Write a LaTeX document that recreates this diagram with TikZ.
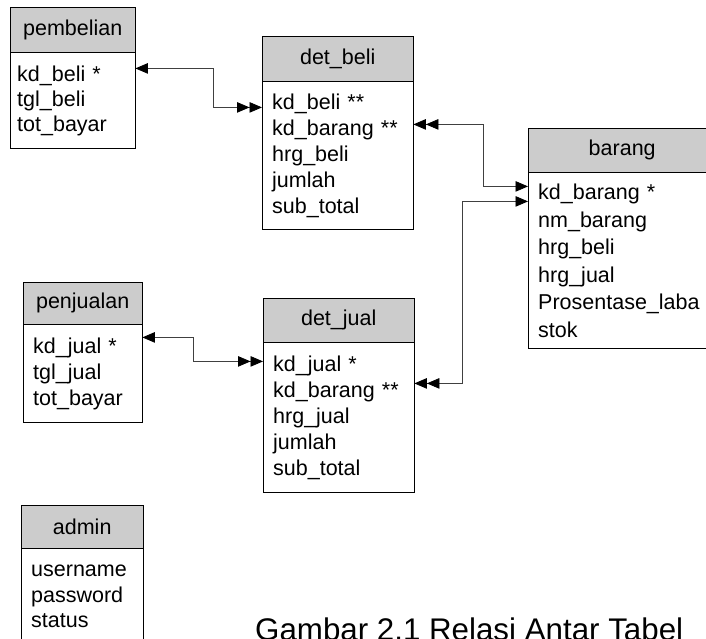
\documentclass[tikz,border=0pt]{standalone}
\usepackage{fontspec}
\setmainfont{Liberation Sans}
\usetikzlibrary{arrows.meta,positioning}

\begin{document}
\begin{tikzpicture}[x=1pt, y=-1pt]
    % Define styles
    \tikzset{
        tabhead/.style={draw, fill=gray!40, anchor=north west, inner sep=0pt, font=\fontsize{21.5}{26}\selectfont},
        tabbody/.style={draw, fill=white, align=left, inner xsep=10pt, inner ysep=0pt, font=\fontsize{21.5}{26}\selectfont},
        relation/.style={black!75, line width=0.8pt, >={Triangle[length=12.5pt, width=10.5pt, black]}}
    }

    % Page frame
    \useasboundingbox (0,0) rectangle (706,639);
    \clip (0,0) rectangle (706,639);

    % Tables
    \node[tabhead, minimum width=125pt, minimum height=45pt] (pembelian) at (10,7) {pembelian};
    \node[tabbody, below=0pt of pembelian, inner xsep=7pt, text width=111pt, minimum height=96pt,
          font=\fontsize{21.5}{25}\selectfont] (pembelian-body)
        {kd\_beli *\\ tgl\_beli\\ tot\_bayar};

    \node[tabhead, minimum width=151pt, minimum height=45pt] (det-beli) at (262,36) {det\_beli};
    \node[tabbody, below=0pt of det-beli, text width=131pt, minimum height=148pt] (det-beli-body)
        {kd\_beli **\\ kd\_barang **\\ hrg\_beli\\ jumlah\\ sub\_total};

    \node[tabhead, minimum width=188pt, minimum height=44pt] (barang) at (528,128) {barang};
    \node[tabbody, below=0pt of barang, text width=168pt, minimum height=176pt,
          font=\fontsize{21.5}{27.5}\selectfont] (barang-body)
        {kd\_barang *\\ nm\_barang\\ hrg\_beli\\ hrg\_jual\\ Prosentase\_laba\\ stok};

    \node[tabhead, minimum width=119pt, minimum height=42pt] (penjualan) at (23,282) {penjualan};
    \node[tabbody, below=0pt of penjualan, text width=99pt, minimum height=98pt] (penjualan-body)
        {kd\_jual *\\ tgl\_jual\\ tot\_bayar};

    \node[tabhead, minimum width=151pt, minimum height=44pt] (det-jual) at (263,298) {det\_jual};
    \node[tabbody, below=0pt of det-jual, text width=131pt, minimum height=150pt] (det-jual-body)
        {kd\_jual *\\ kd\_barang **\\ hrg\_jual\\ jumlah\\ sub\_total};

    \node[tabhead, minimum width=122pt, minimum height=43pt] (admin) at (21,505) {admin};
    \node[tabbody, below=0pt of admin, text width=102pt, minimum height=96pt,
          font=\fontsize{21.5}{25.5}\selectfont] (admin-body)
        {username\\ password\\ status};

    % Relations
    \draw[relation, <->>] ([yshift=-16pt]pembelian-body.north east) -- ++(78,0)
        |- ([yshift=-26pt]det-beli-body.north west);
    \draw[relation, <<->] ([yshift=-43pt]det-beli-body.north east) -- ++(70,0)
        |- ([yshift=-14pt]barang-body.north west);
    \draw[relation, <<->] ([yshift=-41pt]det-jual-body.north east) -- ++(48,0)
        |- ([yshift=-29pt]barang-body.north west);
    \draw[relation, <->>] ([yshift=-13pt]penjualan-body.north east) -- ++(51,0)
        |- ([yshift=-19pt]det-jual-body.north west);

    % Caption
    \node[anchor=base west, inner sep=0pt, font=\fontsize{31.3}{36}\selectfont] (caption) at (255,640)
        {Gambar 2.1 Relasi Antar Tabel};
\end{tikzpicture}
\end{document}
